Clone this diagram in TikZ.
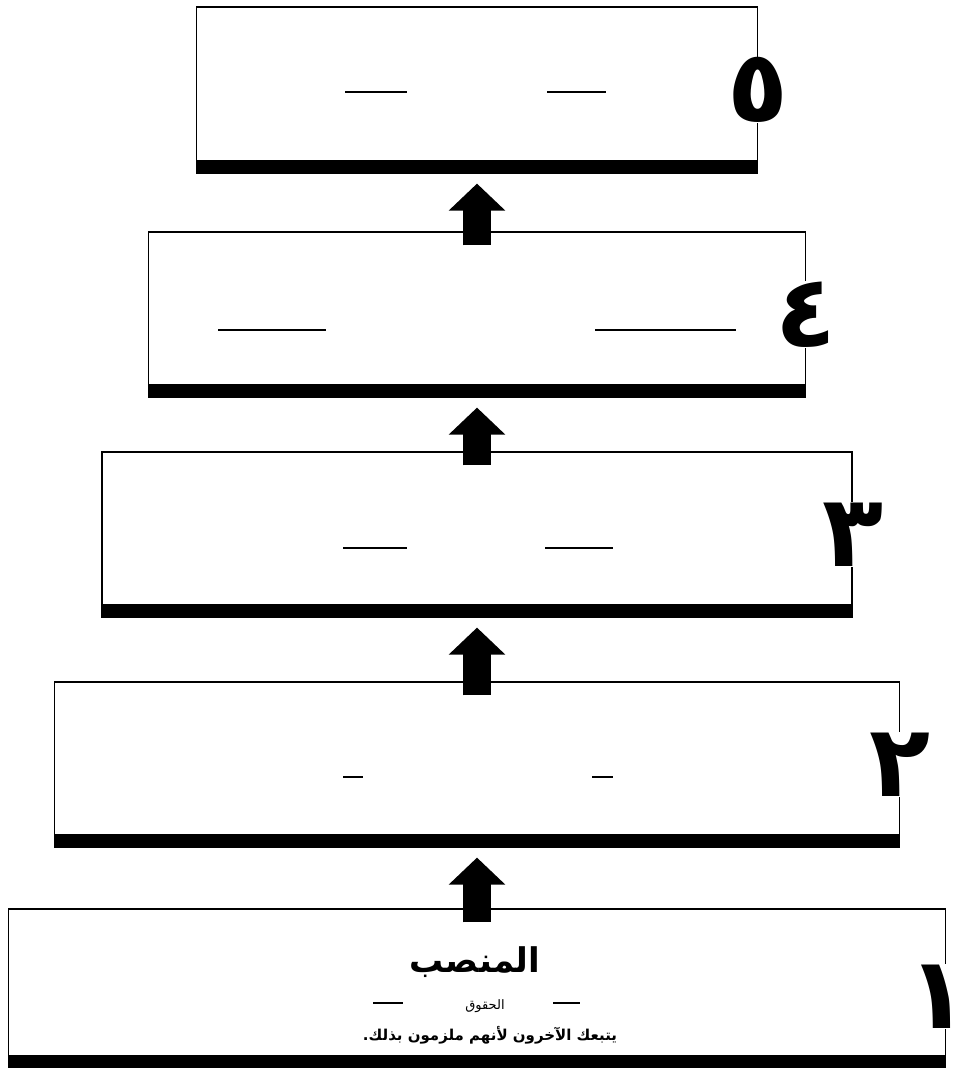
\documentclass[tikz,border=0pt]{standalone}
\usepackage{fontspec}
\newfontfamily\arabicfont[Script=Arabic]{DejaVu Sans}
\TeXXeTstate=1
\usetikzlibrary{arrows.meta}
\tikzset{stage/.style={rectangle, draw, line width=1.2pt, inner sep=0pt}}
\tikzset{digit/.style={fill=white, inner sep=0.5pt, font=\arabicfont\bfseries\fontsize{100}{100}\selectfont}}
\tikzset{blank/.style={line width=1.2pt}}
\tikzset{climb/.style={line width=28pt, -{Triangle[length=27pt,width=55pt]}, shorten >=10pt, shorten <=-14pt}}

\begin{document}
\begin{tikzpicture}[x=1pt,y=-1pt]
    \useasboundingbox (0,0) rectangle (957,1068);
    \foreach \y/\w/\h/\lab/\num/\dw/\dx/\dy in {
      988.5/937/159/l1/١/25/-8/-8,
      764.5/845/165/l2/٢/50/0/0,
      534.5/750/165/l3/٣/60/0/0,
      314.5/657/165/l4/٤/44/0/0,
      90/561/166/l5/٥/48/0/0%
    } {
      \node[stage, minimum width=\w, minimum height=\h] (\lab) at (477,\y) {};
      \fill (\lab.south west) rectangle ([yshift=14pt]\lab.south east);
      \node[digit, xshift=\dx, yshift=\dy] (n\lab) at (\lab.east) {\makebox[\dw pt]{\num}};
    }
    % blanks to fill in
    \draw[blank] (345,92) -- (407,92);
    \draw[blank] (547,92) -- (606,92);
    \draw[blank] (218,330) -- (326,330);
    \draw[blank] (595,330) -- (736,330);
    \draw[blank] (343,548) -- (407,548);
    \draw[blank] (545,548) -- (613,548);
    \draw[blank] (343,777) -- (363,777);
    \draw[blank] (592,777) -- (613,777);
    \draw[blank] (373,1003) -- (403,1003);
    \draw[blank] (553,1003) -- (580,1003);
    \node[font=\arabicfont\bfseries\fontsize{34}{34}\selectfont] (title) at (475,962) {\beginR المنصب\endR};
    \node[font=\arabicfont\fontsize{13}{13}\selectfont] (rights) at (485,1006) {\beginR الحقوق\endR};
    \node[font=\arabicfont\bfseries\fontsize{15}{15}\selectfont] (note) at (490,1035) {\beginR يتبعك الآخرون لأنهم ملزمون بذلك.\endR};
    \foreach \a/\b in {l1/l2, l2/l3, l3/l4, l4/l5}
      \draw[climb] (\a.north) -- (\a.north |- \b.south);
  \end{tikzpicture}
\end{document}
